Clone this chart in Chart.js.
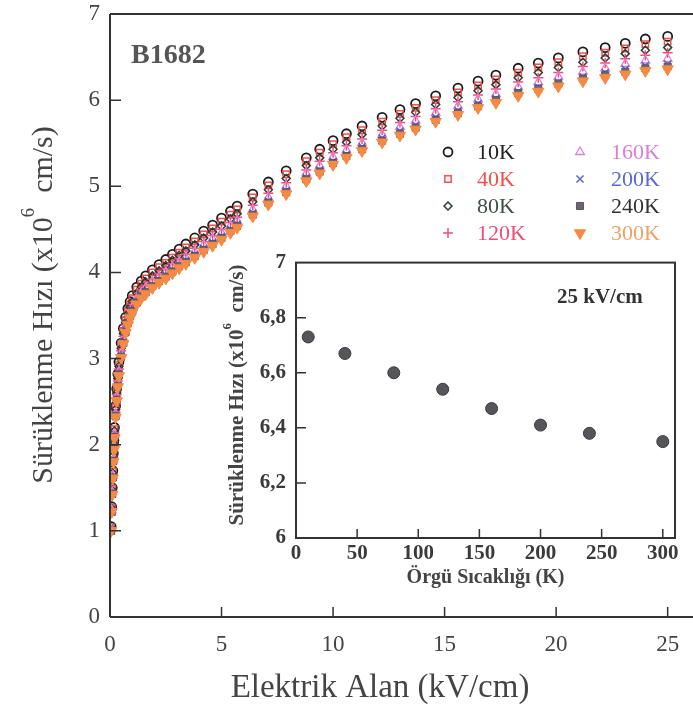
<!DOCTYPE html>
<html>
<head>
<meta charset="utf-8">
<script src="https://cdn.jsdelivr.net/npm/chart.js@4.4.1/dist/chart.umd.min.js"></script>
<style>
  html, body { margin: 0; padding: 0; background: #fff; }
  #wrap { position: relative; width: 693px; height: 711px; }
  #mainChart { position: absolute; left: 0; top: 0; }
  #insetChart { position: absolute; left: 210px; top: 240px; }
</style>
</head>
<body>
<div id="wrap">
  <canvas id="mainChart" width="693" height="711"></canvas>
  <canvas id="insetChart" width="483" height="355"></canvas>
</div>
<script>
// electric field (kV/cm)
const fieldKV = [0.05, 0.075, 0.1, 0.125, 0.15, 0.175, 0.2, 0.25, 0.3, 0.35, 0.4, 0.5, 0.6, 0.7, 0.8, 0.9, 1.0, 1.2, 1.4, 1.6, 1.9, 2.2,
  2.5, 2.8, 3.1, 3.4, 3.8, 4.2, 4.6, 5.0, 5.4, 5.7, 6.4, 7.1, 7.9, 8.8, 9.4, 10.0, 10.6, 11.3, 12.2, 13.0, 13.7, 14.6,
  15.6, 16.5, 17.3, 18.3, 19.2, 20.1, 21.2, 22.2, 23.1, 24.0, 25.0];

// drift velocity (x10^6 cm/s) for each lattice temperature
const v10K = [1.05, 1.28, 1.50, 1.70, 1.90, 2.05, 2.20, 2.45, 2.65, 2.82, 2.96, 3.18, 3.35, 3.48, 3.58, 3.66, 3.73, 3.83, 3.90, 3.96, 4.03, 4.09,
  4.15, 4.21, 4.27, 4.33, 4.40, 4.48, 4.55, 4.63, 4.71, 4.77, 4.91, 5.05, 5.18, 5.33, 5.43, 5.53, 5.61, 5.70, 5.80, 5.89, 5.96, 6.05,
  6.14, 6.22, 6.29, 6.37, 6.43, 6.49, 6.56, 6.61, 6.66, 6.71, 6.74];
const v40K = [1.04, 1.27, 1.49, 1.69, 1.88, 2.03, 2.18, 2.43, 2.63, 2.80, 2.93, 3.15, 3.32, 3.45, 3.55, 3.63, 3.70, 3.80, 3.87, 3.93, 4.00, 4.06,
  4.11, 4.17, 4.23, 4.29, 4.36, 4.44, 4.51, 4.59, 4.67, 4.73, 4.87, 5.01, 5.14, 5.29, 5.39, 5.49, 5.57, 5.65, 5.75, 5.84, 5.91, 6.00,
  6.09, 6.17, 6.24, 6.32, 6.38, 6.44, 6.51, 6.55, 6.60, 6.65, 6.68];
const v80K = [1.03, 1.26, 1.47, 1.67, 1.87, 2.01, 2.16, 2.41, 2.60, 2.77, 2.91, 3.12, 3.29, 3.42, 3.52, 3.60, 3.66, 3.76, 3.83, 3.89, 3.96, 4.02,
  4.08, 4.14, 4.20, 4.25, 4.32, 4.40, 4.47, 4.54, 4.62, 4.68, 4.82, 4.96, 5.09, 5.24, 5.33, 5.43, 5.51, 5.60, 5.70, 5.79, 5.86, 5.95,
  6.03, 6.11, 6.18, 6.26, 6.32, 6.38, 6.44, 6.49, 6.54, 6.58, 6.61];
const v120K = [1.02, 1.25, 1.46, 1.65, 1.85, 1.99, 2.14, 2.38, 2.58, 2.74, 2.88, 3.09, 3.26, 3.39, 3.48, 3.56, 3.63, 3.73, 3.80, 3.85, 3.92, 3.98,
  4.04, 4.10, 4.16, 4.21, 4.28, 4.36, 4.43, 4.50, 4.58, 4.64, 4.78, 4.92, 5.04, 5.19, 5.29, 5.39, 5.47, 5.55, 5.65, 5.74, 5.81, 5.90,
  5.98, 6.06, 6.13, 6.21, 6.26, 6.32, 6.39, 6.43, 6.48, 6.52, 6.55];
const v160K = [1.02, 1.24, 1.45, 1.64, 1.83, 1.98, 2.12, 2.36, 2.55, 2.72, 2.85, 3.06, 3.23, 3.36, 3.45, 3.53, 3.59, 3.69, 3.76, 3.82, 3.89, 3.95,
  4.00, 4.06, 4.12, 4.17, 4.24, 4.32, 4.39, 4.46, 4.54, 4.60, 4.73, 4.87, 5.00, 5.15, 5.24, 5.34, 5.42, 5.50, 5.60, 5.69, 5.76, 5.85,
  5.93, 6.01, 6.07, 6.15, 6.21, 6.27, 6.33, 6.37, 6.42, 6.46, 6.48];
const v200K = [1.01, 1.23, 1.43, 1.62, 1.82, 1.96, 2.10, 2.34, 2.53, 2.69, 2.83, 3.04, 3.20, 3.33, 3.42, 3.50, 3.56, 3.66, 3.73, 3.78, 3.85, 3.91,
  3.97, 4.03, 4.09, 4.14, 4.21, 4.28, 4.35, 4.42, 4.50, 4.56, 4.69, 4.83, 4.95, 5.10, 5.19, 5.29, 5.37, 5.46, 5.56, 5.64, 5.71, 5.80,
  5.88, 5.96, 6.02, 6.10, 6.15, 6.21, 6.27, 6.32, 6.36, 6.40, 6.42];
const v240K = [1.00, 1.22, 1.43, 1.62, 1.81, 1.95, 2.09, 2.33, 2.52, 2.68, 2.81, 3.02, 3.18, 3.31, 3.41, 3.49, 3.55, 3.65, 3.72, 3.77, 3.84, 3.90,
  3.95, 4.01, 4.07, 4.12, 4.19, 4.26, 4.33, 4.40, 4.48, 4.54, 4.67, 4.81, 4.93, 5.08, 5.17, 5.27, 5.35, 5.43, 5.53, 5.61, 5.68, 5.77,
  5.85, 5.93, 6.00, 6.08, 6.13, 6.19, 6.25, 6.29, 6.33, 6.37, 6.39];
const v300K = [1.00, 1.22, 1.42, 1.61, 1.80, 1.94, 2.08, 2.32, 2.51, 2.67, 2.80, 3.01, 3.17, 3.30, 3.39, 3.47, 3.53, 3.63, 3.70, 3.75, 3.82, 3.88,
  3.93, 3.99, 4.05, 4.10, 4.17, 4.24, 4.31, 4.38, 4.46, 4.52, 4.65, 4.79, 4.91, 5.06, 5.15, 5.25, 5.33, 5.41, 5.51, 5.59, 5.66, 5.75,
  5.83, 5.91, 5.97, 6.05, 6.10, 6.16, 6.22, 6.26, 6.30, 6.34, 6.36];

const seriesLabels = ['10K', '40K', '80K', '120K', '160K', '200K', '240K', '300K'];
const seriesValues = [v10K, v40K, v80K, v120K, v160K, v200K, v240K, v300K];

// inset: velocity at 25 kV/cm vs lattice temperature
const tempK = [10, 40, 80, 120, 160, 200, 240, 300];
const v25kV = [6.73, 6.67, 6.60, 6.54, 6.47, 6.41, 6.38, 6.35];

const mainXTicks = [0, 5, 10, 15, 20, 25];
const mainYTicks = [0, 1, 2, 3, 4, 5, 6, 7];
const insetXTicks = [0, 50, 100, 150, 200, 250, 300];
const insetYTicks = [6, 6.2, 6.4, 6.6, 6.8, 7];

const serif = "'Liberation Serif', 'Times New Roman', Times, serif";

const styles = [
  { pointStyle: 'circle', radius: 4.5, borderColor: '#1c1c1c', backgroundColor: 'rgba(0,0,0,0)', borderWidth: 1.8, text: '#222' },
  { pointStyle: 'rect', radius: 4.5, borderColor: '#f0524f', backgroundColor: 'rgba(0,0,0,0)', borderWidth: 1.5, text: '#f0504a' },
  { pointStyle: 'rectRot', radius: 4, borderColor: '#2e3d30', backgroundColor: 'rgba(0,0,0,0)', borderWidth: 1.5, text: '#3e5244' },
  { pointStyle: 'cross', radius: 5, borderColor: '#f04c78', backgroundColor: '#f04c78', borderWidth: 1.5, text: '#f04c78' },
  { pointStyle: 'triangle', radius: 5, borderColor: '#e37ed8', backgroundColor: 'rgba(0,0,0,0)', borderWidth: 1.3, text: '#d97fd6' },
  { pointStyle: 'crossRot', radius: 5, borderColor: '#5566d6', backgroundColor: '#5566d6', borderWidth: 1.5, text: '#5a68d6' },
  { pointStyle: 'rect', radius: 5, borderColor: '#5a5560', backgroundColor: '#6b6670', borderWidth: 1, text: '#333' },
  { pointStyle: 'triangle', radius: 6.5, rotation: 180, borderColor: '#f58a45', backgroundColor: '#f58a45', borderWidth: 1, text: '#f3a063' }
];

const datasets = seriesLabels.map((label, k) => ({
  label: label,
  data: fieldKV.map((x, i) => ({ x: x, y: seriesValues[k][i] })),
  showLine: false,
  pointStyle: styles[k].pointStyle,
  pointRadius: styles[k].radius,
  pointRotation: styles[k].rotation || 0,
  pointBorderColor: styles[k].borderColor,
  pointBackgroundColor: styles[k].backgroundColor,
  pointBorderWidth: styles[k].borderWidth,
  order: 7 - k
}));

function drawSymbol(ctx, st, x, y) {
  ctx.save();
  ctx.strokeStyle = st.borderColor;
  ctx.fillStyle = st.backgroundColor;
  ctx.lineWidth = st.borderWidth;
  Chart.helpers.drawPoint(ctx, { pointStyle: st.pointStyle, radius: st.radius, rotation: st.rotation || 0, borderWidth: st.borderWidth }, x, y);
  ctx.restore();
}

// rotated title with a superscript exponent
function drawVerticalTitle(ctx, cx, cy, size, weight, color) {
  const parts = [
    { t: 'Sürüklenme Hızı (x10', s: size, dy: 0 },
    { t: '6', s: size * 0.62, dy: -size * 0.5 },
    { t: '  cm/s)', s: size, dy: 0 }
  ];
  ctx.save();
  ctx.translate(cx, cy);
  ctx.rotate(-Math.PI / 2);
  ctx.fillStyle = color;
  ctx.textBaseline = 'middle';
  ctx.textAlign = 'left';
  let total = 0;
  parts.forEach(p => { ctx.font = weight + ' ' + p.s + 'px ' + serif; p.w = ctx.measureText(p.t).width; total += p.w; });
  let x = -total / 2;
  parts.forEach(p => { ctx.font = weight + ' ' + p.s + 'px ' + serif; ctx.fillText(p.t, x, p.dy); x += p.w; });
  ctx.restore();
}

const mainDecor = {
  id: 'mainDecor',
  afterDraw(chart) {
    const ctx = chart.ctx, a = chart.chartArea;
    const xs = chart.scales.x, ys = chart.scales.y;
    ctx.save();
    ctx.strokeStyle = '#333';
    ctx.lineWidth = 2;
    ctx.beginPath();
    ctx.moveTo(a.left, a.top); ctx.lineTo(693, a.top);
    ctx.moveTo(a.left, a.top); ctx.lineTo(a.left, a.bottom);
    ctx.moveTo(a.left, a.bottom); ctx.lineTo(693, a.bottom);
    ctx.stroke();
    ctx.lineWidth = 1.5;
    ctx.beginPath();
    mainXTicks.slice(1).forEach(v => { const px = xs.getPixelForValue(v); ctx.moveTo(px, a.bottom); ctx.lineTo(px, a.bottom - 10); });
    mainYTicks.slice(1, -1).forEach(v => { const py = ys.getPixelForValue(v); ctx.moveTo(a.left, py); ctx.lineTo(a.left + 11, py); });
    ctx.stroke();

    ctx.fillStyle = '#555';
    ctx.font = 'bold 28px ' + serif;
    ctx.textBaseline = 'middle';
    ctx.textAlign = 'left';
    ctx.fillText('B1682', 131, 56);

    // legend, two columns
    const rowsY = [152, 179, 206, 233];
    seriesLabels.forEach((lab, i) => {
      const col = i < 4 ? 0 : 1, y = rowsY[i % 4];
      drawSymbol(ctx, styles[i], col ? 580 : 448, y);
      ctx.fillStyle = styles[i].text;
      ctx.font = '22px ' + serif;
      ctx.textAlign = 'left';
      ctx.fillText(lab, col ? 611 : 477, y + 1);
    });

    ctx.fillStyle = '#444';
    ctx.font = '33px ' + serif;
    ctx.textAlign = 'center';
    ctx.fillText('Elektrik Alan (kV/cm)', 380, 688);
    drawVerticalTitle(ctx, 44, 305, 30, 'normal', '#444');
    ctx.restore();
  }
};

new Chart(document.getElementById('mainChart'), {
  type: 'scatter',
  data: { datasets: datasets },
  options: {
    responsive: false,
    animation: false,
    events: [],
    layout: { padding: { top: 0, right: 0, left: 0, bottom: 0 } },
    plugins: { legend: { display: false }, tooltip: { enabled: false } },
    scales: {
      x: {
        type: 'linear', min: 0, max: 25.8,
        grid: { display: false, drawTicks: false }, border: { display: false },
        afterBuildTicks: s => { s.ticks = mainXTicks.map(v => ({ value: v })); },
        afterFit: s => { s.height = 94; s.paddingRight = 0; },
        ticks: { font: { family: serif, size: 23 }, color: '#444', padding: 14, maxRotation: 0, autoSkip: false }
      },
      y: {
        type: 'linear', min: 0, max: 7,
        grid: { display: false, drawTicks: false }, border: { display: false },
        afterBuildTicks: s => { s.ticks = mainYTicks.map(v => ({ value: v })); },
        afterFit: s => { s.width = 110; s.paddingTop = 14; s.paddingBottom = 0; },
        ticks: { font: { family: serif, size: 23 }, color: '#444', padding: 10 }
      }
    }
  },
  plugins: [mainDecor]
});

const insetDecor = {
  id: 'insetDecor',
  beforeDatasetsDraw(chart) {
    const ctx = chart.ctx, a = chart.chartArea;
    ctx.save();
    ctx.fillStyle = '#fff';
    ctx.fillRect(a.left, a.top, a.right - a.left, a.bottom - a.top);
    ctx.restore();
  },
  afterDraw(chart) {
    const ctx = chart.ctx, a = chart.chartArea;
    const xs = chart.scales.x, ys = chart.scales.y;
    ctx.save();
    ctx.strokeStyle = '#333';
    ctx.lineWidth = 2;
    ctx.strokeRect(a.left, a.top, a.right - a.left, a.bottom - a.top);
    ctx.lineWidth = 1.5;
    ctx.beginPath();
    insetXTicks.slice(1).forEach(v => { const px = xs.getPixelForValue(v); ctx.moveTo(px, a.bottom); ctx.lineTo(px, a.bottom - 9); });
    insetYTicks.slice(1, -1).forEach(v => { const py = ys.getPixelForValue(v); ctx.moveTo(a.left, py); ctx.lineTo(a.left + 10, py); });
    ctx.stroke();

    ctx.fillStyle = '#333';
    ctx.font = 'bold 21px ' + serif;
    ctx.textBaseline = 'middle';
    ctx.textAlign = 'left';
    ctx.fillText('25 kV/cm', 347, 58);

    ctx.fillStyle = '#444';
    ctx.font = 'bold 20px ' + serif;
    ctx.textAlign = 'center';
    ctx.fillText('Örgü Sıcaklığı (K)', (a.left + a.right) / 2, 338);
    drawVerticalTitle(ctx, 28, 155, 21, 'bold', '#444');
    ctx.restore();
  }
};

new Chart(document.getElementById('insetChart'), {
  type: 'scatter',
  data: {
    datasets: [{
      label: '25 kV/cm',
      data: tempK.map((t, i) => ({ x: t, y: v25kV[i] })),
      pointStyle: 'circle',
      pointRadius: 6,
      pointBackgroundColor: '#56565a',
      pointBorderColor: '#3a3a3e',
      pointBorderWidth: 1
    }]
  },
  options: {
    responsive: false,
    animation: false,
    events: [],
    layout: { padding: { top: 22, right: 18, left: 0, bottom: 0 } },
    plugins: { legend: { display: false }, tooltip: { enabled: false } },
    scales: {
      x: {
        type: 'linear', min: 0, max: 310,
        grid: { display: false, drawTicks: false }, border: { display: false },
        afterBuildTicks: s => { s.ticks = insetXTicks.map(v => ({ value: v })); },
        afterFit: s => { s.height = 57; },
        ticks: { font: { family: serif, size: 21, weight: 'bold' }, color: '#3a3a3a', padding: 3, maxRotation: 0, autoSkip: false }
      },
      y: {
        type: 'linear', min: 6, max: 7,
        grid: { display: false, drawTicks: false }, border: { display: false },
        afterBuildTicks: s => { s.ticks = insetYTicks.map(v => ({ value: v })); },
        afterFit: s => { s.width = 86; },
        ticks: {
          font: { family: serif, size: 21, weight: 'bold' }, color: '#3a3a3a', padding: 10,
          callback: v => Number.isInteger(v) ? String(v) : v.toFixed(1).replace('.', ',')
        }
      }
    }
  },
  plugins: [insetDecor]
});
</script>
</body>
</html>
